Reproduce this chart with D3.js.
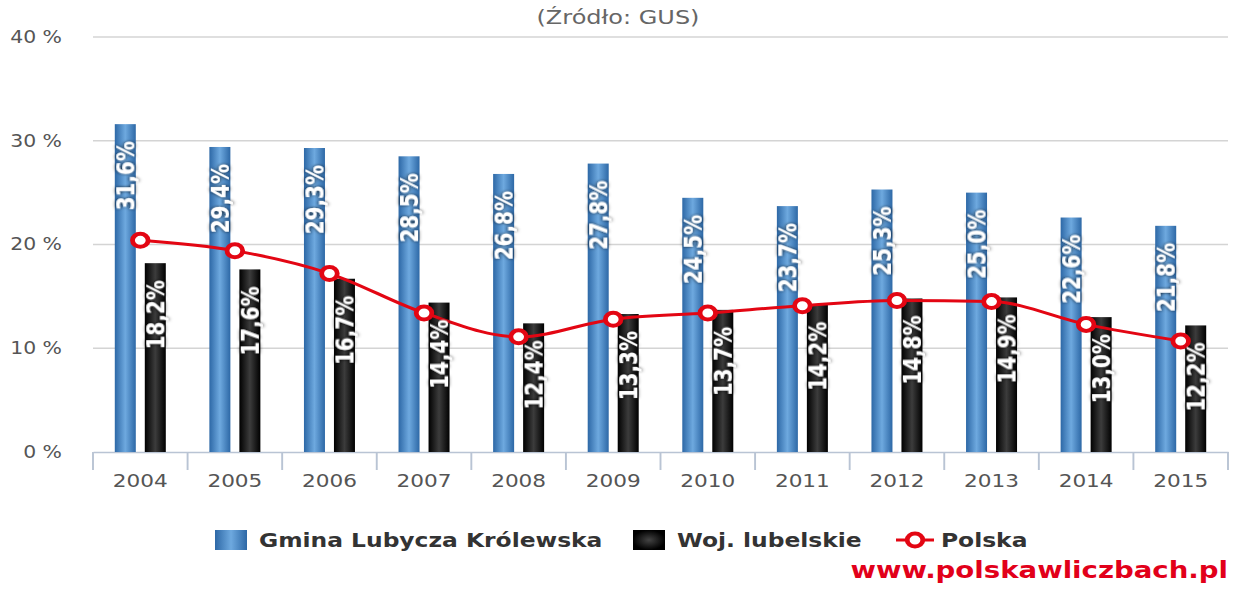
<!DOCTYPE html>
<html>
<head>
<meta charset="utf-8">
<script src="https://cdn.jsdelivr.net/npm/d3@7"></script>
<style>
  body { margin: 0; background: #fff; }
  svg { display: block; font-family: "DejaVu Sans", Verdana, sans-serif; }
</style>
</head>
<body>
<div id="chart"></div>
<script>
var years = ["2004","2005","2006","2007","2008","2009","2010","2011","2012","2013","2014","2015"];
var gmina = [31.6,29.4,29.3,28.5,26.8,27.8,24.5,23.7,25.3,25.0,22.6,21.8];
var woj = [18.2,17.6,16.7,14.4,12.4,13.3,13.7,14.2,14.8,14.9,13.0,12.2];
var polska = [20.4,19.4,17.2,13.4,11.1,12.8,13.4,14.1,14.6,14.5,12.3,10.7];
var yTicks = [0,10,20,30,40];
var seriesNames = ["Gmina Lubycza Królewska","Woj. lubelskie","Polska"];

// the original picture is stretched sideways, so draw in a narrower space
var W = 1236, H = 590, SX = 1.2;
var iw = W / SX;

var svg = d3.select("#chart").append("svg")
    .attr("width", W).attr("height", H)
    .attr("viewBox", "0 0 " + iw + " " + H)
    .attr("preserveAspectRatio", "none");

var defs = svg.append("defs");
var gBlue = defs.append("linearGradient").attr("id", "gBlue");
gBlue.append("stop").attr("offset", "0%").attr("stop-color", "#2d68a6");
gBlue.append("stop").attr("offset", "50%").attr("stop-color", "#6ea9df");
gBlue.append("stop").attr("offset", "100%").attr("stop-color", "#2d68a6");
var gBlack = defs.append("linearGradient").attr("id", "gBlack");
gBlack.append("stop").attr("offset", "0%").attr("stop-color", "#000");
gBlack.append("stop").attr("offset", "50%").attr("stop-color", "#3c3c3c");
gBlack.append("stop").attr("offset", "100%").attr("stop-color", "#000");
var rBlack = defs.append("radialGradient").attr("id", "rBlack");
rBlack.append("stop").attr("offset", "0%").attr("stop-color", "#444");
rBlack.append("stop").attr("offset", "100%").attr("stop-color", "#000");
var sh = defs.append("filter").attr("id", "shadow")
    .attr("x", "-50%").attr("y", "-20%").attr("width", "200%").attr("height", "140%");
sh.append("feDropShadow").attr("dx", 0).attr("dy", 0).attr("stdDeviation", 1.6)
    .attr("flood-color", "#000").attr("flood-opacity", 0.9);

var plotLeft = 93 / SX, plotRight = 1228 / SX, plotTop = 37, plotBottom = 452;

var x = d3.scaleBand().domain(years).range([plotLeft, plotRight]).padding(0);
var y = d3.scaleLinear().domain([0, 40]).range([plotBottom, plotTop]);

var fmt = function(v){ return d3.format(".1f")(v).replace(".", ",") + "%"; };

// title
svg.append("text")
    .attr("x", 618 / SX).attr("y", 24)
    .attr("text-anchor", "middle")
    .attr("font-size", 20).attr("fill", "#666")
    .text("(Źródło: GUS)");

// grid
svg.append("g").selectAll("line")
    .data(yTicks.filter(function(d){ return d > 0; }))
    .enter().append("line")
    .attr("x1", plotLeft).attr("x2", plotRight)
    .attr("y1", function(d){ return y(d); }).attr("y2", function(d){ return y(d); })
    .attr("stroke", "#d4d4d4").attr("stroke-width", 1.6);

svg.append("g").selectAll("text")
    .data(yTicks)
    .enter().append("text")
    .attr("x", 62 / SX).attr("y", function(d){ return y(d) + 6; })
    .attr("text-anchor", "end")
    .attr("font-size", 17).attr("fill", "#555")
    .text(function(d){ return d + " %"; });

// x axis
var xAxis = d3.axisBottom(x).tickSize(0).tickPadding(22);
var gx = svg.append("g")
    .attr("transform", "translate(0," + plotBottom + ")")
    .call(xAxis);
gx.select(".domain").attr("stroke", "#b9c4d4").attr("stroke-width", 1.6);
gx.selectAll("text").attr("font-size", 18).attr("fill", "#555")
    .attr("font-family", "DejaVu Sans, sans-serif");
gx.selectAll(".bound")
    .data(years.concat(["end"]))
    .enter().append("line")
    .attr("class", "bound")
    .attr("x1", function(d, i){ return plotLeft + i * x.bandwidth(); })
    .attr("x2", function(d, i){ return plotLeft + i * x.bandwidth(); })
    .attr("y1", 0).attr("y2", 18)
    .attr("stroke", "#b9c4d4").attr("stroke-width", 1.6);

var bw = 17.5, off = 12.5;
var data = years.map(function(d, i){ return {year: d, g: gmina[i], w: woj[i], p: polska[i]}; });

var g_bars = svg.append("g");
g_bars.selectAll(".bblue")
    .data(data).enter().append("rect")
    .attr("x", function(d){ return x(d.year) + x.bandwidth() / 2 - off - bw / 2; })
    .attr("width", bw)
    .attr("y", function(d){ return y(d.g); })
    .attr("height", function(d){ return plotBottom - y(d.g); })
    .attr("fill", "url(#gBlue)");
g_bars.selectAll(".bblack")
    .data(data).enter().append("rect")
    .attr("x", function(d){ return x(d.year) + x.bandwidth() / 2 + off - bw / 2; })
    .attr("width", bw)
    .attr("y", function(d){ return y(d.w); })
    .attr("height", function(d){ return plotBottom - y(d.w); })
    .attr("fill", "url(#gBlack)");

// Polska line
var line = d3.line()
    .x(function(d){ return x(d.year) + x.bandwidth() / 2; })
    .y(function(d){ return y(d.p); })
    .curve(d3.curveMonotoneX);
svg.append("path").datum(data)
    .attr("d", line)
    .attr("fill", "none").attr("stroke", "#e30613").attr("stroke-width", 3);
svg.selectAll(".pt")
    .data(data).enter().append("circle")
    .attr("cx", function(d){ return x(d.year) + x.bandwidth() / 2; })
    .attr("cy", function(d){ return y(d.p); })
    .attr("r", 6.5)
    .attr("fill", "#fff").attr("stroke", "#e30613").attr("stroke-width", 4);

// bar labels
function barLabels(key, dx){
  svg.append("g").selectAll("text")
      .data(data).enter().append("text")
      .attr("transform", function(d){
        return "translate(" + (x(d.year) + x.bandwidth() / 2 + dx) + "," + (y(d[key]) + 17) + ") rotate(-90)";
      })
      .attr("dy", "0.36em")
      .attr("text-anchor", "end")
      .attr("font-size", 20).attr("font-weight", "bold")
      .attr("fill", "#fff")
      .attr("filter", "url(#shadow)")
      .text(function(d){ return fmt(d[key]); });
}
barLabels("g", -off);
barLabels("w", off);

// legend
var lg = svg.append("g").attr("font-size", 19.5).attr("font-weight", "bold").attr("fill", "#333");
lg.append("rect").attr("x", 215 / SX).attr("y", 530).attr("width", 32 / SX).attr("height", 20)
    .attr("fill", "url(#gBlue)");
lg.append("text").attr("x", 259 / SX).attr("y", 547).text(seriesNames[0]);
lg.append("rect").attr("x", 633 / SX).attr("y", 530).attr("width", 32 / SX).attr("height", 20)
    .attr("fill", "url(#rBlack)");
lg.append("text").attr("x", 677 / SX).attr("y", 547).text(seriesNames[1]);
lg.append("line").attr("x1", 896 / SX).attr("x2", 934 / SX).attr("y1", 540).attr("y2", 540)
    .attr("stroke", "#e30613").attr("stroke-width", 3);
lg.append("circle").attr("cx", 915 / SX).attr("cy", 540).attr("r", 6.5)
    .attr("fill", "#fff").attr("stroke", "#e30613").attr("stroke-width", 4);
lg.append("text").attr("x", 941 / SX).attr("y", 547).text(seriesNames[2]);

// watermark
svg.append("text")
    .attr("x", 1228 / SX).attr("y", 578)
    .attr("text-anchor", "end")
    .attr("font-size", 23).attr("font-weight", "bold")
    .attr("fill", "#e2001a")
    .text("www.polskawliczbach.pl");
</script>
</body>
</html>
